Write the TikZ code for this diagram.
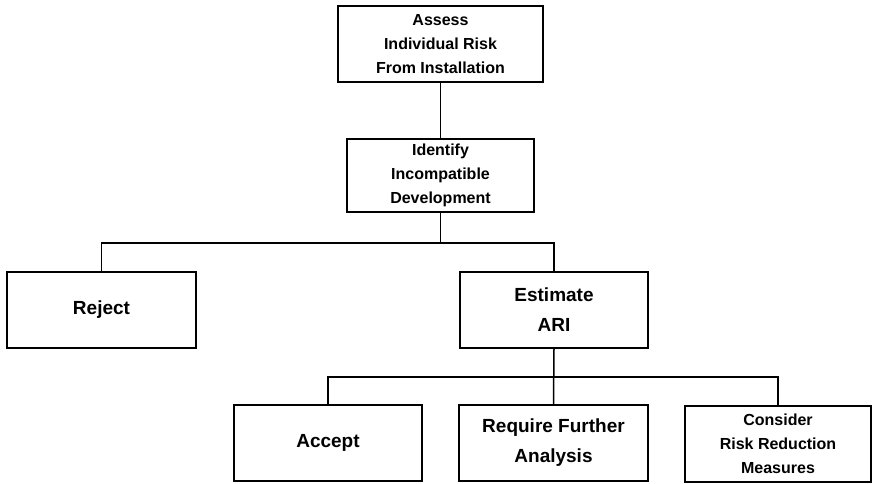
\documentclass[tikz,border=0pt]{standalone}
\usepackage{fontspec}
\setmainfont{Liberation Sans}
\begin{document}
\begin{tikzpicture}[x=1pt,y=-1pt,
  box/.style={draw, line width=1.5pt, align=center, inner sep=0pt, font=\bfseries},
  small/.style={font=\bfseries\fontsize{16}{24}\selectfont},
  big/.style={font=\bfseries\fontsize{19}{30}\selectfont},
  conn/.style={line width=1.5pt}]
\useasboundingbox (0,0) rectangle (872,483);
\node[box, small, minimum width=205pt, minimum height=76pt] (top) at (440.5,44) {Assess\\Individual Risk\\From Installation};
\node[box, small, minimum width=187pt, minimum height=73pt] (ident) at (440.5,175.5) {Identify\\Incompatible\\Development};
\node[box, big, minimum width=189pt, minimum height=76pt] (reject) at (101.5,310) {Reject};
\node[box, big, minimum width=188pt, minimum height=76pt] (est) at (554,310) {Estimate\\ARI};
\node[box, big, minimum width=188pt, minimum height=76pt] (accept) at (328,443) {Accept};
\node[box, big, minimum width=189pt, minimum height=76pt] (req) at (553.5,443) {Require Further\\Analysis};
\node[box, small, minimum width=186pt, minimum height=76pt] (cons) at (778,444) {Consider\\Risk Reduction\\Measures};
\coordinate (j1) at (440.5,243);
\coordinate (j2) at (553.5,377);
\draw[conn] (top.south) -- (ident.north);
\draw[conn] (ident.south) -- (j1);
\draw[conn] (reject.north) |- (j1) -| (est.north);
\draw[conn] (est.south) -- (req.north);
\draw[conn] (accept.north) |- (j2) -| (cons.north);
\end{tikzpicture}
\end{document}
